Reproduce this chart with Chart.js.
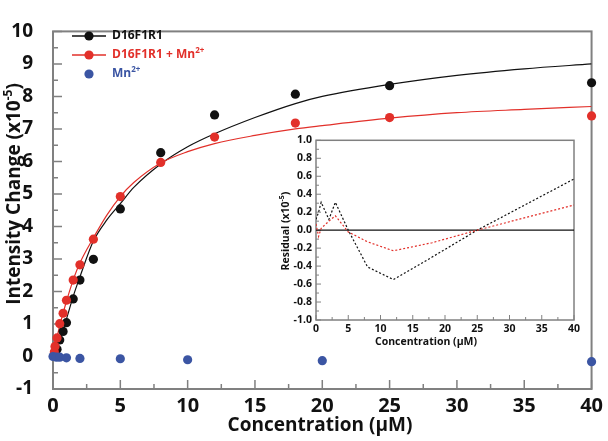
<!DOCTYPE html>
<html>
<head>
<meta charset="utf-8">
<script src="https://cdn.jsdelivr.net/npm/chart.js@4.4.1/dist/chart.umd.min.js"></script>
<style>
  body { margin: 0; background: #fff; }
  #wrap { position: relative; width: 608px; height: 441px; }
  #main { position: absolute; left: 0; top: 0; }
  #inset { position: absolute; left: 270px; top: 130px; }
</style>
</head>
<body>
<div id="wrap">
  <canvas id="main" width="608" height="441"></canvas>
  <canvas id="inset" width="330" height="230"></canvas>
</div>
<script>
// titration points (uM) and intensity change (x10^-5)
const conc = [0.1, 0.15, 0.3, 0.5, 0.75, 1, 1.5, 2, 3, 5, 8, 12, 18, 25, 40];
const d16 = [0.05, 0.1, 0.22, 0.51, 0.77, 1.04, 1.77, 2.35, 2.99, 4.54, 6.27, 7.43, 8.07, 8.33, 8.42];
const d16Mn = [0.14, 0.31, 0.57, 1.01, 1.33, 1.73, 2.35, 2.82, 3.61, 4.92, 5.97, 6.75, 7.18, 7.35, 7.4];

const mnConc = [0, 0.25, 0.5, 1, 2, 5, 10, 20, 40];
const mnOnly = [0, -0.02, -0.02, -0.04, -0.06, -0.07, -0.1, -0.13, -0.16];

// fitted curves
const fitX = [0, 0.25, 0.5, 1, 1.5, 2, 3, 4, 5, 6, 8, 10, 12, 15, 18, 20, 25, 30, 35, 40];
const fitD16 = [0, 0.2, 0.5, 1.15, 1.85, 2.45, 3.55, 4.2, 4.7, 5.2, 5.92, 6.45, 6.85, 7.35, 7.78, 8.0, 8.37, 8.65, 8.85, 9.0];
const fitD16Mn = [0, 0.5, 0.95, 1.7, 2.35, 2.88, 3.65, 4.35, 4.92, 5.35, 5.95, 6.3, 6.55, 6.8, 7.0, 7.1, 7.33, 7.5, 7.6, 7.69];

// residuals (inset)
const resX = [0, 0.4, 0.8, 2, 3, 5, 8, 12, 18, 25, 40];
const resD16 = [0.12, 0.2, 0.31, 0.12, 0.31, 0.0, -0.41, -0.55, -0.3, 0.0, 0.57];
const resD16Mn = [0.07, -0.07, 0.02, 0.1, 0.16, -0.02, -0.13, -0.23, -0.14, 0.0, 0.28];

const BLACK = '#111111';
const RED = '#e2302a';
const BLUE = '#3b55a3';
const AXIS = '#808080';
const FONT = "'Open Sans', sans-serif";

const pts = (xs, ys) => xs.map((x, i) => ({ x: x, y: ys[i] }));

// text with superscript pieces: parts = [[text, isSup], ...]
function drawRich(ctx, parts, cx, cy, size, color, rotate) {
  ctx.save();
  ctx.translate(cx, cy);
  if (rotate) ctx.rotate(-Math.PI / 2);
  ctx.fillStyle = color;
  ctx.textBaseline = 'middle';
  ctx.textAlign = 'left';
  const supSize = Math.round(size * 0.65);
  let total = 0;
  parts.forEach(p => {
    ctx.font = 'bold ' + (p[1] ? supSize : size) + 'px ' + FONT;
    total += ctx.measureText(p[0]).width;
  });
  let x = -total / 2;
  parts.forEach(p => {
    ctx.font = 'bold ' + (p[1] ? supSize : size) + 'px ' + FONT;
    ctx.fillText(p[0], x, p[1] ? -size * 0.35 : 0);
    x += ctx.measureText(p[0]).width;
  });
  ctx.restore();
}

// frame and inward ticks
const axisBox = {
  id: 'axisBox',
  beforeDatasetsDraw(chart, args, o) {
    const { ctx, chartArea: a } = chart;
    const xs = chart.scales.x, ys = chart.scales.y;
    ctx.save();
    if (o.fill) {
      ctx.fillStyle = o.fill;
      ctx.fillRect(a.left, a.top, a.right - a.left, a.bottom - a.top);
    }
    ctx.strokeStyle = o.color;
    ctx.lineWidth = o.width;
    ctx.strokeRect(a.left, a.top, a.right - a.left, a.bottom - a.top);
    ctx.lineWidth = o.tickWidth;
    ctx.beginPath();
    for (let v = xs.min; v <= xs.max + 1e-9; v += o.xMinor) {
      const major = Math.abs(v / o.xMajor - Math.round(v / o.xMajor)) < 1e-6;
      const px = xs.getPixelForValue(v);
      ctx.moveTo(px, a.bottom);
      ctx.lineTo(px, a.bottom - (major ? o.majorLen : o.minorLen));
    }
    for (let v = ys.min; v <= ys.max + 1e-9; v += o.yMinor) {
      const major = Math.abs(v / o.yMajor - Math.round(v / o.yMajor)) < 1e-6;
      const py = ys.getPixelForValue(v);
      ctx.moveTo(a.left, py);
      ctx.lineTo(a.left + (major ? o.majorLen : o.minorLen), py);
    }
    ctx.stroke();
    if (o.zeroLine) {
      const py = ys.getPixelForValue(0);
      ctx.strokeStyle = BLACK;
      ctx.lineWidth = 1.3;
      ctx.beginPath();
      ctx.moveTo(a.left, py);
      ctx.lineTo(a.right, py);
      ctx.stroke();
    }
    ctx.restore();
  }
};

const mainDecor = {
  id: 'mainDecor',
  afterDraw(chart) {
    const ctx = chart.ctx;
    drawRich(ctx, [['Intensity Change (x10', false], ['-5', true], [')', false]], 15, 194, 19, BLACK, true);
    drawRich(ctx, [['Concentration (\u03bcM)', false]], 320, 426, 19, BLACK, false);

    // legend
    const items = [
      { y: 36, color: BLACK, line: true, parts: [['D16F1R1', false]] },
      { y: 55, color: RED, line: true, parts: [['D16F1R1 + Mn', false], ['2+', true]] },
      { y: 74, color: BLUE, line: false, parts: [['Mn', false], ['2+', true]] }
    ];
    items.forEach(it => {
      ctx.save();
      if (it.line) {
        ctx.strokeStyle = it.color;
        ctx.lineWidth = 1.3;
        ctx.beginPath();
        ctx.moveTo(72, it.y);
        ctx.lineTo(106, it.y);
        ctx.stroke();
      }
      ctx.fillStyle = it.color;
      ctx.beginPath();
      ctx.arc(89, it.y, 4.6, 0, Math.PI * 2);
      ctx.fill();
      let w = 0;
      it.parts.forEach(p => {
        ctx.font = 'bold ' + (p[1] ? 8 : 12) + 'px ' + FONT;
        w += ctx.measureText(p[0]).width;
      });
      ctx.restore();
      drawRich(ctx, it.parts, 112 + w / 2, it.y, 12, it.color, false);
    });
  }
};

const insetDecor = {
  id: 'insetDecor',
  afterDraw(chart) {
    const ctx = chart.ctx;
    // canvas is offset by (270, 130)
    drawRich(ctx, [['Residual (x10', false], ['-5', true], [')', false]], 16, 101, 10.5, BLACK, true);
    drawRich(ctx, [['Concentration (\u03bcM)', false]], 156, 212, 10.5, BLACK, false);
  }
};

new Chart(document.getElementById('main'), {
  type: 'scatter',
  data: {
    datasets: [
      { label: 'Mn2+', data: pts(mnConc, mnOnly), backgroundColor: BLUE, borderWidth: 0, pointRadius: 4.6, clip: false },
      { label: 'D16F1R1 + Mn2+', data: pts(conc, d16Mn), backgroundColor: RED, borderWidth: 0, pointRadius: 4.6, clip: false },
      { label: 'D16F1R1', data: pts(conc, d16), backgroundColor: BLACK, borderWidth: 0, pointRadius: 4.6, clip: false },
      { type: 'line', label: 'fit Mn', data: pts(fitX, fitD16Mn), borderColor: RED, borderWidth: 1.2, pointRadius: 0, cubicInterpolationMode: 'monotone', fill: false },
      { type: 'line', label: 'fit', data: pts(fitX, fitD16), borderColor: BLACK, borderWidth: 1.2, pointRadius: 0, cubicInterpolationMode: 'monotone', fill: false }
    ]
  },
  options: {
    responsive: false,
    animation: false,
    layout: { padding: { top: 12, right: 16, left: 0, bottom: 0 } },
    plugins: {
      legend: { display: false },
      tooltip: { enabled: false },
      axisBox: { color: AXIS, width: 2, tickWidth: 1.5, xMajor: 5, xMinor: 2.5, yMajor: 1, yMinor: 0.5, majorLen: 9, minorLen: 5 }
    },
    scales: {
      x: {
        type: 'linear', min: 0, max: 40,
        grid: { display: false, drawTicks: false }, border: { display: false },
        ticks: { stepSize: 5, color: BLACK, padding: 5, font: { family: FONT, size: 20, weight: 'bold' } },
        afterFit: s => { s.height = 52; }
      },
      y: {
        type: 'linear', min: -1, max: 10,
        grid: { display: false, drawTicks: false }, border: { display: false },
        ticks: { stepSize: 1, color: BLACK, padding: 20, font: { family: FONT, size: 19, weight: 'bold' } },
        afterFit: s => { s.width = 53; }
      }
    }
  },
  plugins: [axisBox, mainDecor]
});

new Chart(document.getElementById('inset'), {
  type: 'line',
  data: {
    datasets: [
      { label: 'D16F1R1 + Mn2+', data: pts(resX, resD16Mn), borderColor: RED, borderWidth: 1.2, borderDash: [2, 2], pointRadius: 0, tension: 0, fill: false },
      { label: 'D16F1R1', data: pts(resX, resD16), borderColor: BLACK, borderWidth: 1.2, borderDash: [2, 2], pointRadius: 0, tension: 0, fill: false }
    ]
  },
  options: {
    responsive: false,
    animation: false,
    layout: { padding: { top: 10, right: 26, left: 0, bottom: 0 } },
    plugins: {
      legend: { display: false },
      tooltip: { enabled: false },
      axisBox: { fill: '#ffffff', color: AXIS, width: 1.5, tickWidth: 1, xMajor: 5, xMinor: 2.5, yMajor: 0.2, yMinor: 0.1, majorLen: 5, minorLen: 3, zeroLine: true }
    },
    scales: {
      x: {
        type: 'linear', min: 0, max: 40,
        grid: { display: false, drawTicks: false }, border: { display: false },
        ticks: { stepSize: 5, color: BLACK, padding: 3, font: { family: FONT, size: 10.5, weight: 'bold' } },
        afterFit: s => { s.height = 40; }
      },
      y: {
        type: 'linear', min: -1, max: 1,
        grid: { display: false, drawTicks: false }, border: { display: false },
        ticks: { stepSize: 0.2, autoSkip: false, color: BLACK, padding: 4, font: { family: FONT, size: 10.5, weight: 'bold' },
          callback: v => Number(v).toFixed(1) },
        afterFit: s => { s.width = 46; }
      }
    }
  },
  plugins: [axisBox, insetDecor]
});
</script>
</body>
</html>
